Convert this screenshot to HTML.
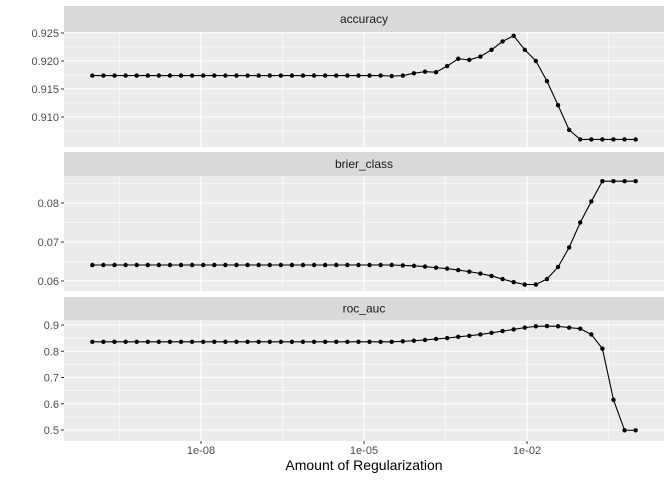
<!DOCTYPE html>
<html><head><meta charset="utf-8"><style>
body{margin:0;background:#fff;}
svg{display:block;font-family:"Liberation Sans",sans-serif;}
</style></head><body>
<svg id="c" width="672" height="480" viewBox="0 0 672 480"></svg>
<script>
const xLog = [];
for (let i = 0; i < 50; i++) xLog.push(-10 + i * 10 / 49);
const accuracy = [0.9174,0.9174,0.9174,0.9174,0.9174,0.9174,0.9174,0.9174,0.9174,0.9174,0.9174,0.9174,0.9174,0.9174,0.9174,0.9174,0.9174,0.9174,0.9174,0.9174,0.9174,0.9174,0.9174,0.9174,0.9174,0.9174,
0.9174,0.9173,0.9174,0.9178,0.9181,0.9180,0.9191,0.9204,0.9202,0.9208,0.9220,0.9235,0.9245,0.9220,0.9200,0.9164,0.9121,0.9077,0.9060,0.9060,0.9060,0.9060,0.9060,0.9060];
const brier = [0.0641,0.0641,0.0641,0.0641,0.0641,0.0641,0.0641,0.0641,0.0641,0.0641,0.0641,0.0641,0.0641,0.0641,0.0641,0.0641,0.0641,0.0641,0.0641,0.0641,0.0641,0.0641,0.0641,0.0641,0.0641,0.0641,
0.0641,0.0641,0.0640,0.0639,0.0637,0.0634,0.0632,0.0628,0.0624,0.0619,0.0613,0.0605,0.0597,0.0591,0.0591,0.0605,0.0636,0.0686,0.0750,0.0804,0.0856,0.0856,0.0856,0.0856];
const roc = [0.836,0.836,0.836,0.836,0.836,0.836,0.836,0.836,0.836,0.836,0.836,0.836,0.836,0.836,0.836,0.836,0.836,0.836,0.836,0.836,0.836,0.836,0.836,0.836,0.836,0.836,
0.836,0.836,0.838,0.840,0.843,0.847,0.850,0.855,0.859,0.864,0.870,0.877,0.883,0.890,0.895,0.896,0.895,0.890,0.886,0.864,0.810,0.615,0.499,0.499];
const xTickVals = [-8,-5,-2];
const xTickLabels = ["1e-08","1e-05","1e-02"];
const accTicks = [0.910,0.915,0.920,0.925];
const accLabels = ["0.910","0.915","0.920","0.925"];
const brierTicks = [0.06,0.07,0.08];
const brierLabels = ["0.06","0.07","0.08"];
const rocTicks = [0.5,0.6,0.7,0.8,0.9];
const rocLabels = ["0.5","0.6","0.7","0.8","0.9"];

const svg = document.getElementById('c');
const NS = 'http://www.w3.org/2000/svg';
function mk(tag, attrs, parent){const e=document.createElementNS(NS,tag);for(const k in attrs)e.setAttribute(k,attrs[k]);(parent||svg).appendChild(e);return e;}
const PX0 = 64, PX1 = 664;
const xs = v => 201 + (v + 8) * 54.333;

const panels = [
 {name:'accuracy', data:accuracy, ticks:accTicks, labels:accLabels, minor:[0.9075,0.9125,0.9175,0.9225], sTop:6, top:32, bot:147, v0:0.925, y0:33, v1:0.910, y1:117},
 {name:'brier_class', data:brier, ticks:brierTicks, labels:brierLabels, minor:[0.065,0.075,0.085], sTop:152, top:176, bot:291, v0:0.08, y0:203, v1:0.06, y1:281},
 {name:'roc_auc', data:roc, ticks:rocTicks, labels:rocLabels, minor:[0.55,0.65,0.75,0.85], sTop:297, top:320, bot:441, v0:0.9, y0:325, v1:0.5, y1:430}
];
panels.forEach(p=>{
  const g = mk('g',{});
  
  
  const ys = v => p.y0 + (p.v0 - v) * (p.y1 - p.y0) / (p.v0 - p.v1);
  const strip = mk('rect',{x:PX0,y:p.sTop,width:PX1-PX0,height:p.top-p.sTop,fill:'#d9d9d9'},g);
  
  
  const st = mk('text',{x:(PX0+PX1)/2,y:(p.sTop+p.top)/2+4,'text-anchor':'middle','font-size':'12',fill:'#1a1a1a'},g);
  st.textContent = p.name;
  
  
  mk('rect',{x:PX0,y:p.top,width:PX1-PX0,height:p.bot-p.top,fill:'#ebebeb'},g);
  p.minor.forEach(v=>{const y=ys(v); if(y>p.top&&y<p.bot) mk('line',{x1:PX0,x2:PX1,y1:y,y2:y,stroke:'#fff','stroke-width':0.55},g);});
  [-9.5,-6.5,-3.5,-0.5].forEach(v=>mk('line',{x1:xs(v),x2:xs(v),y1:p.top,y2:p.bot,stroke:'#fff','stroke-width':0.55},g));
  p.ticks.forEach((v,i)=>{const y=ys(v);
    mk('line',{x1:PX0,x2:PX1,y1:y,y2:y,stroke:'#fff','stroke-width':1.1},g);
    mk('line',{x1:PX0-3,x2:PX0,y1:y,y2:y,stroke:'#333','stroke-width':1},g);
    const t=mk('text',{x:PX0-5,y:y+4,'text-anchor':'end','font-size':'11',fill:'#4d4d4d'},g);
    t.textContent=p.labels[i];
    
    
  });
  xTickVals.forEach(v=>mk('line',{x1:xs(v),x2:xs(v),y1:p.top,y2:p.bot,stroke:'#fff','stroke-width':1.1},g));
  const pts = p.data.map((v,i)=>xs(xLog[i]).toFixed(2)+','+ys(v).toFixed(2)).join(' ');
  const line = mk('polyline',{points:pts,fill:'none',stroke:'#000','stroke-width':1.1},g);
  
  
  p.data.forEach((v,i)=>{
    const c = mk('circle',{cx:xs(xLog[i]),cy:ys(v),r:2.2,fill:'#000'},g);
    
    
  });
});
xTickVals.forEach((v,i)=>{
  mk('line',{x1:xs(v),x2:xs(v),y1:441,y2:444,stroke:'#333','stroke-width':1});
  const t=mk('text',{x:xs(v),y:454,'text-anchor':'middle','font-size':'11',fill:'#4d4d4d'});
  t.textContent=xTickLabels[i];
  
  
});
const xt=mk('text',{x:364,y:470,'text-anchor':'middle','font-size':'14',fill:'#000'});
xt.textContent='Amount of Regularization';


</script>
</body></html>
